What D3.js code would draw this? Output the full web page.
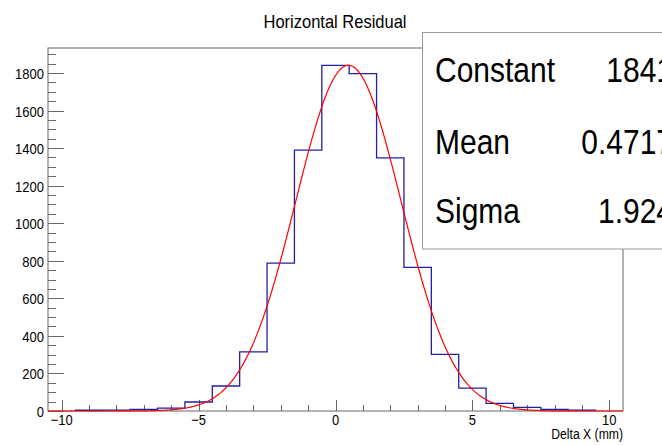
<!DOCTYPE html>
<html><head><meta charset="utf-8">
<script src="https://cdn.jsdelivr.net/npm/d3@7"></script>
<style>body{margin:0;background:#fff}svg{display:block}text{font-family:"Liberation Sans",Arial,sans-serif;fill:#000}</style>
</head><body>
<script>
const binCenters = [-9,-8,-7,-6,-5,-4,-3,-2,-1,0,1,2,3,4,5,6,7,8,9];
const binCounts  = [4,5,9,15,48,133,315,787,1389,1841,1797,1348,765,302,122,41,19,8,5];
const binWidth = 1;
const xTicksMajor = [-10,-5,0,5,10];
const yTicksMajor = [0,200,400,600,800,1000,1200,1400,1600,1800];
const fitNames  = ["Constant","Mean","Sigma"];
const fitValues = [1841, 0.4717, 1.924];
const fitLabels = ["1841","0.4717","1.924"];
const title = "Horizontal Residual";
const xTitle = "Delta X (mm)";

const W=662,H=445, L=48,R=623,T=48,B=411, S=1.15;
const svg=d3.select("body").append("svg").attr("width",W).attr("height",H);
const x=d3.scaleLinear().domain([-10.5,10.5]).range([L,R]);
const y=d3.scaleLinear().domain([0,1933]).range([B,T]);
const axisCol="#666";

function txt(g,xx,yy,s,size,anchor){
  return g.append("text").attr("transform",`translate(${xx},${yy}) scale(1,${S})`)
    .attr("font-size",size).attr("text-anchor",anchor||"start").text(s);
}

// frame
svg.append("rect").attr("x",L).attr("y",T).attr("width",R-L).attr("height",B-T)
  .attr("fill","none").attr("stroke",axisCol).attr("stroke-width",1);

// y axis ticks
const yMinor=d3.range(0,1933,50);
svg.append("g").selectAll("line").data(yMinor).join("line")
  .attr("x1",L).attr("x2",d=>L+(d%200===0?16:8))
  .attr("y1",d=>Math.round(y(d))+0.5).attr("y2",d=>Math.round(y(d))+0.5)
  .attr("stroke",axisCol);
yTicksMajor.forEach(v=>txt(svg,44,y(v)+6,String(v),13,"end"));

// x axis ticks
const xMinor=d3.range(-10,11,1);
svg.append("g").selectAll("line").data(xMinor).join("line")
  .attr("x1",d=>Math.round(x(d))+0.5).attr("x2",d=>Math.round(x(d))+0.5)
  .attr("y1",B).attr("y2",d=>B-(d%5===0?11:6))
  .attr("stroke",axisCol);
xTicksMajor.forEach(v=>txt(svg,x(v),425,v<0?"\u2212"+Math.abs(v):String(v),13,"middle"));

// histogram outline
const pts=[];
binCenters.forEach((c,i)=>{pts.push([c-binWidth/2,binCounts[i]]);pts.push([c+binWidth/2,binCounts[i]]);});
pts.unshift([binCenters[0]-binWidth/2,0]);
pts.push([binCenters[binCenters.length-1]+binWidth/2,0]);
svg.append("path").attr("d",d3.line().x(d=>x(d[0])).y(d=>y(d[1]))(pts))
  .attr("fill","none").attr("stroke","#2020a0").attr("stroke-width",1.3);

// fit curve (gaussian with the displayed fit parameters)
const [A,mu,sg]=fitValues;
const fx=d3.range(-10.5,10.5001,0.05);
svg.append("path").attr("d",d3.line().x(d=>x(d)).y(d=>y(A*Math.exp(-0.5*((d-mu)/sg)**2)))(fx))
  .attr("fill","none").attr("stroke","#ff0000").attr("stroke-width",1.2);

// title
txt(svg,335,28,title,16.5,"middle");
// x title
txt(svg,R,439,xTitle,12.2,"end");

// stat box
svg.append("rect").attr("x",422.5).attr("y",32.5).attr("width",300).attr("height",216.5)
  .attr("fill","#fff").attr("stroke","#999");
const rowY=[82,154,223];
fitNames.forEach((n,i)=>{
  txt(svg,435,rowY[i],n,30,"start");
  txt(svg,673,rowY[i],fitLabels[i],30,"end");
});
</script>
</body></html>
